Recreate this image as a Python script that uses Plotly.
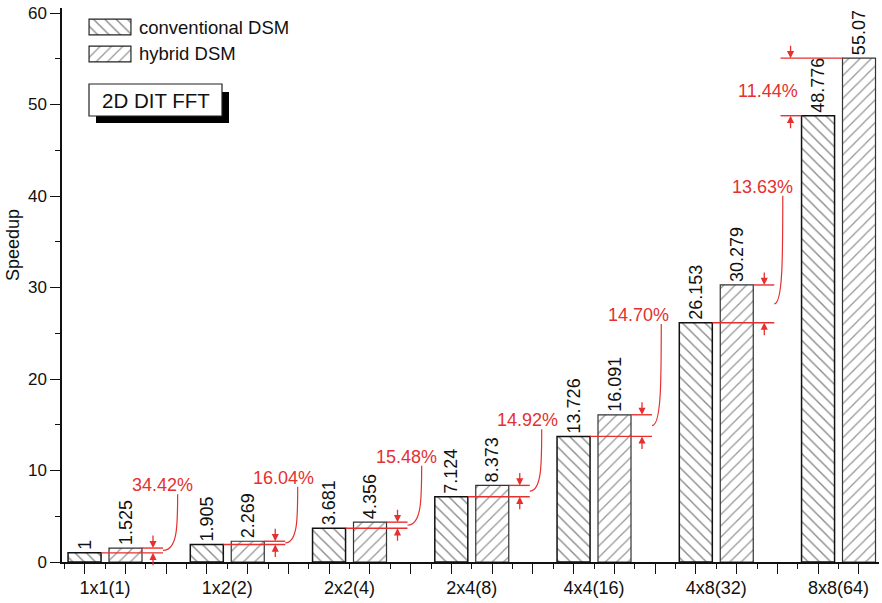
import numpy as np
import plotly.graph_objects as go

# ---- data -------------------------------------------------------------
categories = ["1x1(1)", "1x2(2)", "2x2(4)", "2x4(8)", "4x4(16)", "4x8(32)", "8x8(64)"]
conventional = [1, 1.905, 3.681, 7.124, 13.726, 26.153, 48.776]
hybrid = [1.525, 2.269, 4.356, 8.373, 16.091, 30.279, 55.07]
gain_labels = ["34.42%", "16.04%", "15.48%", "14.92%", "14.70%", "13.63%", "11.44%"]

# placement of the red gain labels: (x offset from group centre, y value)
gain_label_pos = [(0.474, 8.4), (0.456, 9.2), (0.47, 11.5), (0.452, 15.5),
                  (0.36, 27.0), (0.374, 41.0), (-0.577, 51.5)]
# horizontal offset of the leader-curve tip relative to the label centre
gain_tip_dx = [0.12, 0.12, 0.12, 0.12, 0.19, 0.17, None]

# ---- geometry / style ---------------------------------------------------
FONT = "Liberation Sans, Arial, sans-serif"
RED = "#e5302f"
W, H = 882, 603
ML, MR, MT, MB = 62, 3, 8, 41
PW, PH = W - ML - MR, H - MT - MB
X_RANGE = [-0.352, -0.352 + PW / 122.25]
Y_RANGE = [0, 60.55]
PX_X = (X_RANGE[1] - X_RANGE[0]) / PW      # data units per pixel (x)
PX_Y = (Y_RANGE[1] - Y_RANGE[0]) / PH      # data units per pixel (y)

BARGAP, BARGROUPGAP = 0.33, 0.194
SLOT = (1 - BARGAP) / 2
BAR_W = SLOT * (1 - BARGROUPGAP)
OFF = SLOT / 2                              # bar centre offset from group centre

CONV_PATTERN = dict(shape="\\", size=8, solidity=0.17, fgcolor="#111",
                    bgcolor="white")
HYB_PATTERN = dict(shape="/", size=8, solidity=0.15, fgcolor="#2a2a2a",
                   bgcolor="white")


def pxx(px):
    return (px - ML) / PW


def pxy(py):
    return (H - MB - py) / PH


xs = np.arange(len(categories))

fig = go.Figure()

fig.add_trace(go.Bar(
    x=xs, y=conventional, name="conventional DSM",
    text=[f"{v:g}" for v in conventional], textposition="outside",
    textangle=-90, textfont=dict(family=FONT, size=18, color="#111"),
    constraintext="none", cliponaxis=False,
    marker=dict(color="white", line=dict(color="#111", width=1.5),
                pattern=CONV_PATTERN),
    showlegend=False,
))
fig.add_trace(go.Bar(
    x=xs, y=hybrid, name="hybrid DSM",
    text=[f"{v:g}" for v in hybrid], textposition="outside",
    textangle=-90, textfont=dict(family=FONT, size=18, color="#111"),
    constraintext="none", cliponaxis=False,
    marker=dict(color="white", line=dict(color="#333", width=1.2),
                pattern=HYB_PATTERN),
    showlegend=False,
))

# ---- legend swatches on a small inset axis ------------------------------
legend_names = ["conventional DSM", "hybrid DSM"]
legend_patterns = [CONV_PATTERN, HYB_PATTERN]
for i, (nm, pat) in enumerate(zip(legend_names, legend_patterns)):
    fig.add_trace(go.Bar(
        x=[1], y=[1 - i], orientation="h", width=0.59, base=0,
        xaxis="x2", yaxis="y2", showlegend=False, hoverinfo="skip",
        marker=dict(color="white", line=dict(color="#222", width=1.2),
                    pattern=pat),
    ))

shapes = []
annotations = []

for i, txt in enumerate(legend_names):
    annotations.append(dict(
        xref="paper", yref="paper", x=pxx(137), y=pxy(27 + 27 * i),
        xanchor="left", yanchor="middle", text=txt, showarrow=False,
        font=dict(family=FONT, size=18.5, color="#111")))

# "2D DIT FFT" box with drop shadow
shapes.append(dict(type="rect", xref="paper", yref="paper",
                   x0=pxx(96), x1=pxx(229), y0=pxy(123), y1=pxy(92),
                   fillcolor="#000", line=dict(width=0), layer="above"))
shapes.append(dict(type="rect", xref="paper", yref="paper",
                   x0=pxx(89), x1=pxx(222), y0=pxy(116), y1=pxy(84),
                   fillcolor="white", line=dict(color="#222", width=1.2),
                   layer="above"))
annotations.append(dict(xref="paper", yref="paper", x=pxx(155.5), y=pxy(100),
                        xanchor="center", yanchor="middle",
                        text="2D DIT FFT", showarrow=False,
                        font=dict(family=FONT, size=20.5, color="#111")))

# ---- red gain markers ---------------------------------------------------
red_line = dict(color=RED, width=1.4)
for g, (c, h) in enumerate(zip(conventional, hybrid)):
    lx, ly = gain_label_pos[g]
    if gain_tip_dx[g] is not None:
        conv_right = g - OFF + BAR_W / 2
        hyb_right = g + OFF + BAR_W / 2
        arrow_x = hyb_right + 11 * PX_X
        end_x = hyb_right + 21 * PX_X
        shapes.append(dict(type="line", xref="x", yref="y", x0=conv_right,
                           x1=end_x, y0=c, y1=c, line=red_line, layer="above"))
        shapes.append(dict(type="line", xref="x", yref="y", x0=hyb_right,
                           x1=end_x, y0=h, y1=h, line=red_line, layer="above"))
        # leader curve from the gap between the lines up to the label
        sx, sy = end_x, (c + h) / 2
        tx, ty = g + lx + gain_tip_dx[g], ly - 9 * PX_Y
        path = (f"M {sx},{sy} C {tx},{sy} {tx},{sy + 0.45 * (ty - sy)} "
                f"{tx},{ty}")
        shapes.append(dict(type="path", xref="x", yref="y", path=path,
                           line=dict(color=RED, width=1.2), layer="above"))
    else:
        conv_left = g - OFF - BAR_W / 2
        hyb_left = g + OFF - BAR_W / 2
        arrow_x = conv_left - 11 * PX_X
        start_x = conv_left - 21 * PX_X
        shapes.append(dict(type="line", xref="x", yref="y", x0=start_x,
                           x1=conv_left, y0=c, y1=c, line=red_line,
                           layer="above"))
        shapes.append(dict(type="line", xref="x", yref="y", x0=start_x,
                           x1=hyb_left, y0=h, y1=h, line=red_line,
                           layer="above"))
    # arrows pointing at the upper (hybrid) and lower (conventional) levels
    for yv, ay in ((h, -14), (c, 14)):
        annotations.append(dict(
            xref="x", yref="y", x=arrow_x, y=yv, ax=0, ay=ay, text="",
            showarrow=True, arrowhead=2, arrowsize=1.1, arrowwidth=1.3,
            arrowcolor=RED, standoff=0, startstandoff=0))
    annotations.append(dict(
        xref="x", yref="y", x=g + lx, y=ly, text=gain_labels[g],
        xanchor="center", yanchor="middle",
        showarrow=False, font=dict(family=FONT, size=18, color=RED)))

# y-axis title
annotations.append(dict(xref="paper", yref="paper", x=pxx(13), y=pxy(245),
                        xanchor="center", yanchor="middle",
                        text="Speedup", textangle=-90, showarrow=False,
                        font=dict(family=FONT, size=18, color="#111")))

# x ticks: short ticks every third of a group, labels at group centres,
# longer minor ticks in between
major_vals = np.arange(-1, 3 * len(categories)) / 3
major_text = [categories[int(round(v))] if abs(v - round(v)) < 1e-6 else ""
              for v in major_vals]
minor_vals = np.arange(-1, 3 * len(categories)) / 3 + 1 / 6

fig.update_layout(
    width=W, height=H,
    margin=dict(l=ML, r=MR, t=MT, b=MB),
    paper_bgcolor="white", plot_bgcolor="white",
    barmode="group", bargap=BARGAP, bargroupgap=BARGROUPGAP,
    font=dict(family=FONT, color="#111"),
    xaxis=dict(
        range=X_RANGE, tickmode="array", tickvals=major_vals,
        ticktext=major_text, ticks="outside", ticklen=5, tickwidth=1.3,
        tickcolor="#111", showline=True, linecolor="#111", linewidth=1.5,
        showgrid=False, zeroline=False, ticklabelstandoff=4,
        tickfont=dict(family=FONT, size=18, color="#111"),
        minor=dict(tickmode="array", tickvals=minor_vals, ticks="outside",
                   ticklen=10, tickwidth=1.3, tickcolor="#111"),
    ),
    yaxis=dict(
        range=Y_RANGE, tickmode="array", tickvals=list(range(0, 61, 10)),
        ticks="outside", ticklen=10, tickwidth=1.3, tickcolor="#111",
        showline=True, linecolor="#111", linewidth=1.5, showgrid=False,
        zeroline=False, tickfont=dict(family=FONT, size=17, color="#111"),
        minor=dict(tickmode="array", tickvals=list(range(5, 60, 10)),
                   ticks="outside", ticklen=5, tickwidth=1.3,
                   tickcolor="#111"),
    ),
    xaxis2=dict(domain=[pxx(87.8), pxx(132.2)], range=[-0.03, 1.03],
                anchor="y2", visible=False, fixedrange=True),
    yaxis2=dict(domain=[pxy(67.5), pxy(13.5)], range=[-0.5, 1.5],
                anchor="x2", visible=False, fixedrange=True),
    shapes=shapes,
    annotations=annotations,
)

fig.write_html("out.html")
